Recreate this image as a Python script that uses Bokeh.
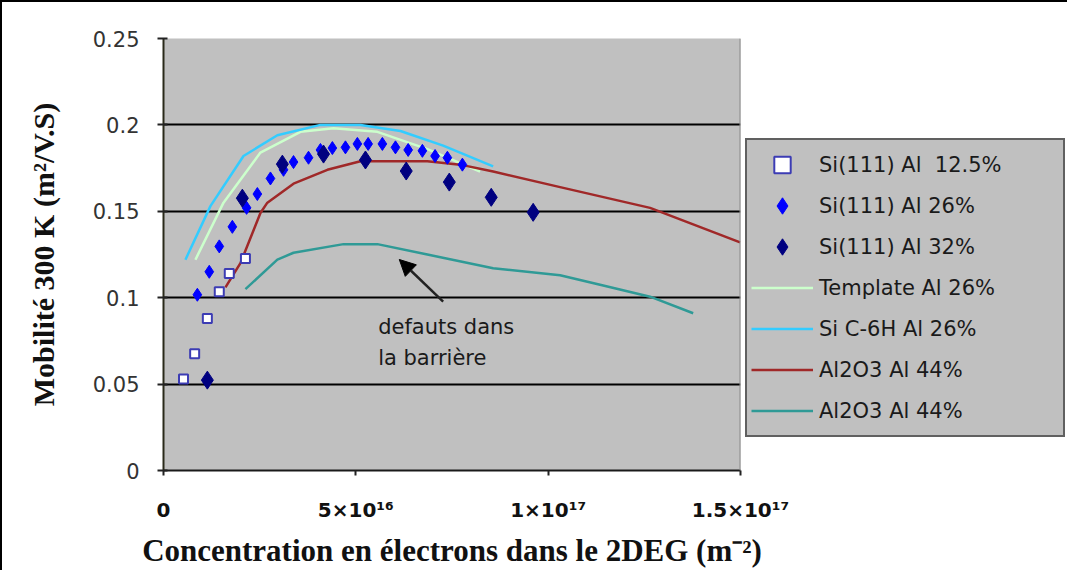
from bokeh.plotting import figure
from bokeh.models import (Legend, LegendItem, FixedTicker, Arrow, NormalHead, Label, Span)
from bokeh.embed import file_html
from bokeh.resources import INLINE
import numpy as np

E16 = 1e16

# Si(111) Al 12.5% (open squares)
sq_x = [0.52, 0.81, 1.14, 1.45, 1.71, 2.13]
sq_y = [0.053, 0.0675, 0.088, 0.1035, 0.114, 0.1227]

# Si(111) Al 26% (blue diamonds)
d26_x = [0.88, 1.19, 1.45, 1.79, 2.16, 2.44, 2.78, 3.12, 3.38, 3.77, 4.08, 4.39,
         4.73, 5.04, 5.32, 5.69, 6.03, 6.36, 6.73, 7.06, 7.38, 7.77]
d26_y = [0.1017, 0.115, 0.1297, 0.141, 0.152, 0.160, 0.169, 0.174, 0.1785, 0.181, 0.1855, 0.1866,
         0.187, 0.189, 0.189, 0.189, 0.187, 0.1855, 0.185, 0.182, 0.181, 0.177]

# Si(111) Al 32% (navy diamonds)
d32_x = [1.14, 2.05, 3.09, 4.16, 5.25, 6.31, 7.43, 8.52, 9.61]
d32_y = [0.0523, 0.1576, 0.1773, 0.1831, 0.1797, 0.1733, 0.1669, 0.1581, 0.1494]

# Template Al 26%
tpl_x = [0.83, 1.56, 2.52, 3.56, 4.42, 5.56, 6.86, 8.23]
tpl_y = [0.122, 0.155, 0.184, 0.196, 0.198, 0.196, 0.186, 0.173]

# SiC-6H Al 26%
sic_x = [0.57, 1.22, 2.08, 2.96, 4.08, 5.12, 6.16, 7.27, 8.57]
sic_y = [0.122, 0.153, 0.182, 0.194, 0.200, 0.200, 0.1965, 0.188, 0.176]

# Al2O3 Al 44% (red)
al1_x = [1.61, 2.0, 2.52, 2.70, 3.38, 4.26, 5.12, 6.86, 7.71, 8.57, 10.31, 12.65, 14.99]
al1_y = [0.106, 0.120, 0.149, 0.155, 0.166, 0.174, 0.179, 0.179, 0.177, 0.173, 0.164, 0.152, 0.132]

# Al2O3 Al 44% (teal)
al2_x = [2.13, 2.96, 3.38, 4.68, 5.56, 6.86, 8.57, 10.31, 11.35, 12.65, 13.77]
al2_y = [0.105, 0.122, 0.126, 0.131, 0.131, 0.125, 0.117, 0.113, 0.1075, 0.1006, 0.091]

x_ticks = [0, 5e16, 1e17, 1.5e17]
x_tick_labels = ["0", "5×10¹⁶", "1×10¹⁷", "1.5×10¹⁷"]
y_ticks = [0, 0.05, 0.1, 0.15, 0.2, 0.25]
y_tick_labels = ["0", "0.05", "0.1", "0.15", "0.2", "0.25"]

labels = ["Si(111) Al  12.5%", "Si(111) Al 26%", "Si(111) Al 32%",
          "Template Al 26%", "Si C-6H Al 26%", "Al2O3 Al 44%", "Al2O3 Al 44%"]

def sx(a):
    return np.array(a) * E16

p = figure(output_backend="svg", toolbar_location=None,
           frame_width=577, frame_height=432,
           min_border_left=161, min_border_top=36, min_border_bottom=100, min_border_right=325,
           x_range=(0, 1.5e17), y_range=(0, 0.25),
           background_fill_color="#c0c0c0", border_fill_color="white")
p.outline_line_color = None
p.styles = {"border-left": "2px solid black", "border-top": "2px solid black"}

r_tpl = p.line(sx(tpl_x), tpl_y, line_color="#ccffcc", line_width=2.5)
r_sic = p.line(sx(sic_x), sic_y, line_color="#33ccff", line_width=2.5)
r_al1 = p.line(sx(al1_x), al1_y, line_color="#a02828", line_width=2.5)
r_al2 = p.line(sx(al2_x), al2_y, line_color="#2f9a96", line_width=2.5)
r_sq = p.scatter(sx(sq_x), sq_y, marker="square", size=9, line_color="#3c3cb4",
                 fill_color="white", line_width=2)
r_d26 = p.scatter(sx(d26_x), d26_y, marker="diamond", size=13, line_color="#0000ff",
                  fill_color="#0000ff")
r_d32 = p.scatter(sx(d32_x), d32_y, marker="diamond", size=18, line_color="#000080",
                  fill_color="#000080")

# grid
p.xgrid.visible = False
p.ygrid.ticker = FixedTicker(ticks=[0.05, 0.1, 0.15, 0.2])
p.ygrid.grid_line_color = "black"
p.ygrid.grid_line_width = 2
p.ygrid.grid_line_alpha = 1.0

# right edge of plot area
p.add_layout(Span(location=1.5e17, dimension="height", line_color="#8a8a8a", line_width=2))

# axes
p.xaxis.ticker = FixedTicker(ticks=x_ticks)
p.xaxis.major_label_overrides = {t: l for t, l in zip(x_ticks, x_tick_labels)}
p.yaxis.ticker = FixedTicker(ticks=y_ticks)
p.yaxis.major_label_overrides = {t: l for t, l in zip(y_ticks, y_tick_labels)}
for ax in (p.xaxis[0], p.yaxis[0]):
    ax.minor_tick_line_color = None
    ax.axis_line_width = 2
    ax.major_tick_line_width = 2
    ax.major_tick_line_color = "#222222"
p.yaxis.axis_line_color = "#2a2a1a"
p.xaxis.axis_line_color = "#1a1a1a"
p.yaxis.major_tick_out = 6
p.yaxis.major_tick_in = 4
p.xaxis.major_tick_out = 5
p.xaxis.major_tick_in = 0
p.yaxis.major_label_text_font = "DejaVu Sans"
p.yaxis.major_label_text_font_size = "21px"
p.yaxis.major_label_text_color = "#333333"
p.yaxis.major_label_standoff = 18
p.xaxis.major_label_text_font = "DejaVu Sans"
p.xaxis.major_label_text_font_style = "bold"
p.xaxis.major_label_text_font_size = "20px"
p.xaxis.major_label_text_color = "#111111"
p.xaxis.major_label_standoff = 22

p.yaxis.axis_label = "Mobilité 300 K (m²/V.S)"
p.yaxis.axis_label_text_font = "Liberation Serif"
p.yaxis.axis_label_text_font_style = "bold"
p.yaxis.axis_label_text_font_size = "30px"
p.yaxis.axis_label_text_color = "#111111"
p.yaxis.axis_label_standoff = 30

p.xaxis.axis_label = "Concentration en électrons dans le 2DEG (m⁻²)"
p.xaxis.axis_label_text_font = "Liberation Serif"
p.xaxis.axis_label_text_font_style = "bold"
p.xaxis.axis_label_text_font_size = "31px"
p.xaxis.axis_label_text_color = "#111111"
p.xaxis.axis_label_standoff = 8

# annotation
p.add_layout(Arrow(end=NormalHead(size=16, fill_color="black", line_color="black"),
                   x_start=7.27e16, y_start=0.0977, x_end=6.13e16, y_end=0.1221,
                   line_color="#222222", line_width=2.5))
p.add_layout(Label(x=5.58e16, y=0.0831, text="defauts  dans", text_font="DejaVu Sans",
                   text_font_size="21px", text_color="#1a1a1a", text_baseline="middle"))
p.add_layout(Label(x=5.58e16, y=0.0651, text="la barrière", text_font="DejaVu Sans",
                   text_font_size="21px", text_color="#1a1a1a", text_baseline="middle"))

# legend
renderers = [r_sq, r_d26, r_d32, r_tpl, r_sic, r_al1, r_al2]
legend = Legend(items=[LegendItem(label=l, renderers=[r]) for l, r in zip(labels, renderers)],
                location=(5, 33), orientation="vertical")
legend.padding = 4
legend.spacing = 0
legend.margin = 0
legend.label_height = 41
legend.glyph_height = 41
legend.glyph_width = 62
legend.label_standoff = 6
legend.label_width = 240
legend.label_text_font = "DejaVu Sans"
legend.label_text_font_size = "21px"
legend.label_text_color = "#1a1a1a"
legend.background_fill_color = "#c0c0c0"
legend.background_fill_alpha = 1.0
legend.border_line_color = "black"
legend.border_line_width = 2.5
p.add_layout(legend, "right")

open("out.html", "w").write(file_html(p, INLINE))
